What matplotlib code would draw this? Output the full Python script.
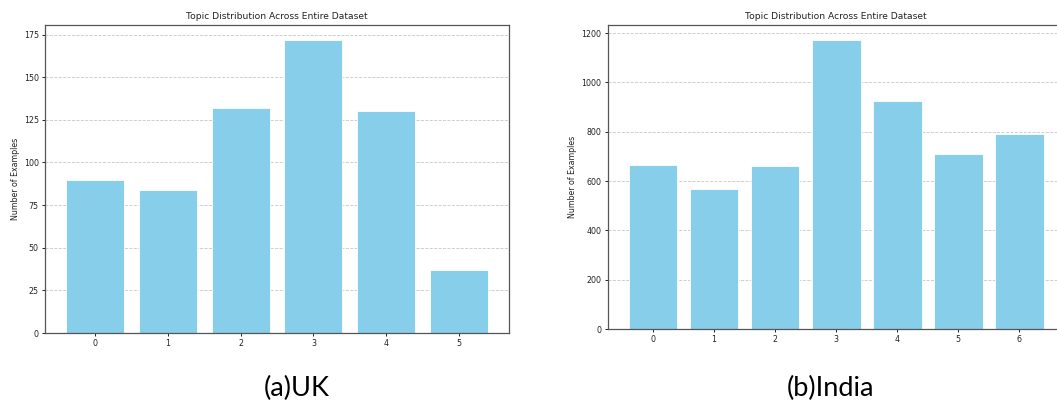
import matplotlib.pyplot as plt

# topic counts
uk_topics = [0, 1, 2, 3, 4, 5]
uk_counts = [90, 84, 132, 172, 130, 37]

india_topics = [0, 1, 2, 3, 4, 5, 6]
india_counts = [667, 566, 662, 1174, 924, 710, 792]

title = 'Topic Distribution Across Entire Dataset'
ylabel = 'Number of Examples'
captions = ['(a)UK', '(b)India']

fig = plt.figure(figsize=(10.57, 4.08), dpi=100)

ax1 = fig.add_axes([0.0426, 0.1838, 0.439, 0.755])
ax2 = fig.add_axes([0.575, 0.1936, 0.432, 0.745])

for ax, x, y in [(ax1, uk_topics, uk_counts), (ax2, india_topics, india_counts)]:
    ax.bar(x, y, color='skyblue', edgecolor='white', linewidth=0.6)
    ax.set_xticks(x)
    ax.set_title(title, fontsize=6.6, pad=4, color='#222222')
    ax.set_ylabel(ylabel, fontsize=5.7, labelpad=3, color='#222222')
    ax.tick_params(labelsize=5.7, length=2.5, width=0.6, pad=2, labelcolor='#222222')
    ax.grid(axis='y', linestyle='--', linewidth=0.6, alpha=0.7)
    ax.set_axisbelow(True)
    for s in ax.spines.values():
        s.set_linewidth(0.9)
        s.set_color('#555555')

fig.text(0.281, 0.049, captions[0], fontsize=19.5, family=['Lato', 'DejaVu Sans'],
         ha='center', va='center')
fig.text(0.786, 0.049, captions[1], fontsize=19.5, family=['Lato', 'DejaVu Sans'],
         ha='center', va='center')

fig.savefig('out.png', dpi=100)
